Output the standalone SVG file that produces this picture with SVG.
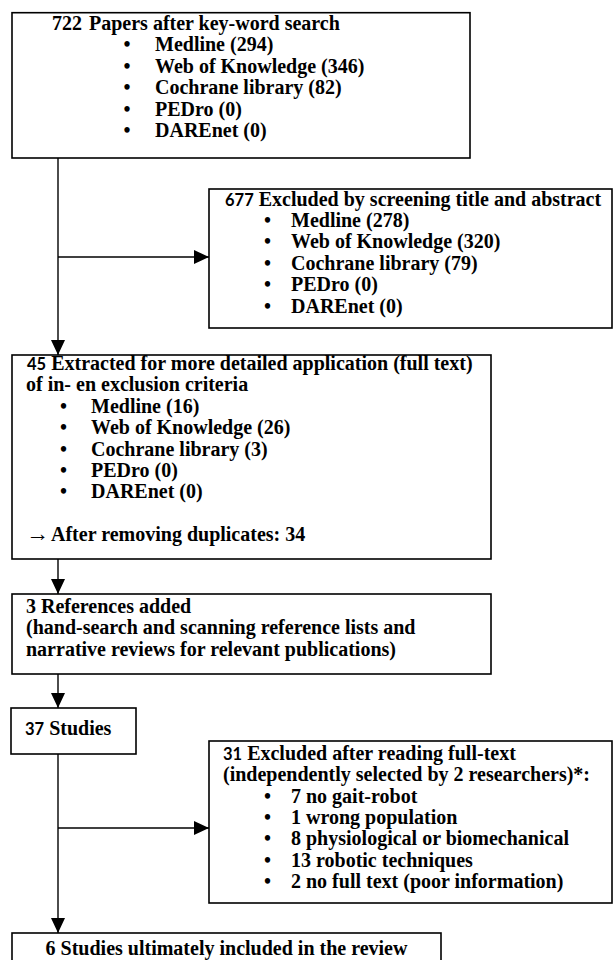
<svg xmlns="http://www.w3.org/2000/svg" width="614" height="960" viewBox="0 0 614 960">
<defs>
<style>
.box{fill:#fff;stroke:#000;stroke-width:1.6}
.t{font-family:"Liberation Serif","Times New Roman",serif;font-weight:bold;font-size:20px;fill:#000}
.n{font-family:Lato,"Liberation Sans",sans-serif;font-weight:bold;font-size:16.5px}
.ln{fill:none;stroke:#000;stroke-width:1.4}
</style>
<marker id="ah" viewBox="0 0 15 14" refX="15" refY="7" markerWidth="15" markerHeight="14" markerUnits="userSpaceOnUse" orient="auto">
<path d="M0,0 L15,7 L0,14 Z" fill="#000"/>
</marker>
</defs>
<rect width="614" height="960" fill="#fff"/>
<g id="connectors">
<line class="ln" x1="58" y1="158" x2="58" y2="355" marker-end="url(#ah)"/>
<line class="ln" x1="58" y1="257" x2="209" y2="257" marker-end="url(#ah)"/>
<line class="ln" x1="58" y1="559" x2="58" y2="594" marker-end="url(#ah)"/>
<line class="ln" x1="58" y1="674" x2="58" y2="708" marker-end="url(#ah)"/>
<line class="ln" x1="58" y1="754" x2="58" y2="933" marker-end="url(#ah)"/>
<line class="ln" x1="58" y1="828" x2="209" y2="828" marker-end="url(#ah)"/>
</g>
<g id="n722">
<rect class="box" x="12" y="12.7" width="458" height="145.3"/>
<text class="t" x="52" y="30">722<tspan x="89">Papers after key-word search</tspan></text>
<text class="t" x="123.5" y="51.4">•<tspan x="155">Medline (294)</tspan></text>
<text class="t" x="123.5" y="72.8">•<tspan x="155">Web of Knowledge (346)</tspan></text>
<text class="t" x="123.5" y="94.2">•<tspan x="155">Cochrane library (82)</tspan></text>
<text class="t" x="123.5" y="115.6">•<tspan x="155">PEDro (0)</tspan></text>
<text class="t" x="123.5" y="137">•<tspan x="155">DAREnet (0)</tspan></text>
</g>
<g id="n677">
<rect class="box" x="209" y="189" width="403" height="139"/>
<text class="t" x="225" y="205.5"><tspan class="n">677</tspan> Excluded by screening title and abstract</text>
<text class="t" x="264" y="226.9">•<tspan x="291">Medline (278)</tspan></text>
<text class="t" x="264" y="248.3">•<tspan x="291">Web of Knowledge (320)</tspan></text>
<text class="t" x="264" y="269.7">•<tspan x="291">Cochrane library (79)</tspan></text>
<text class="t" x="264" y="291.1">•<tspan x="291">PEDro (0)</tspan></text>
<text class="t" x="264" y="312.5">•<tspan x="291">DAREnet (0)</tspan></text>
</g>
<g id="n45">
<rect class="box" x="12" y="355" width="479" height="204"/>
<text class="t" x="27" y="370"><tspan class="n">45</tspan> Extracted for more detailed application (full text)</text>
<text class="t" x="26" y="391.4">of in- en exclusion criteria</text>
<text class="t" x="60" y="412.8">•<tspan x="91">Medline (16)</tspan></text>
<text class="t" x="60" y="434.2">•<tspan x="91">Web of Knowledge (26)</tspan></text>
<text class="t" x="60" y="455.6">•<tspan x="91">Cochrane library (3)</tspan></text>
<text class="t" x="60" y="477">•<tspan x="91">PEDro (0)</tspan></text>
<text class="t" x="60" y="498.4">•<tspan x="91">DAREnet (0)</tspan></text>
<text class="t" x="26" y="541.2"><tspan font-size="23px">→</tspan><tspan x="51">After removing duplicates: 34</tspan></text>
</g>
<g id="n3">
<rect class="box" x="12" y="594" width="479" height="80"/>
<text class="t" x="26" y="613">3 References added</text>
<text class="t" x="26" y="634.4">(hand-search and scanning reference lists and</text>
<text class="t" x="26" y="655.8">narrative reviews for relevant publications)</text>
</g>
<g id="n37">
<rect class="box" x="11" y="708" width="125" height="46"/>
<text class="t" x="25" y="735"><tspan class="n">37</tspan> Studies</text>
</g>
<g id="n31">
<rect class="box" x="209" y="741" width="403" height="162"/>
<text class="t" x="223" y="760"><tspan class="n">31</tspan> Excluded after reading full-text</text>
<text class="t" x="223" y="781.3">(independently selected by 2 researchers)*:</text>
<text class="t" x="264" y="802.6">•<tspan x="291">7 no gait-robot</tspan></text>
<text class="t" x="264" y="823.9">•<tspan x="291">1 wrong population</tspan></text>
<text class="t" x="264" y="845.2">•<tspan x="291">8 physiological or biomechanical</tspan></text>
<text class="t" x="264" y="866.5">•<tspan x="291">13 robotic techniques</tspan></text>
<text class="t" x="264" y="887.8">•<tspan x="291">2 no full text (poor information)</tspan></text>
</g>
<g id="n6">
<rect class="box" x="12" y="933" width="429" height="40"/>
<text class="t" x="226.5" y="955" text-anchor="middle">6 Studies ultimately included in the review</text>
</g>
</svg>
